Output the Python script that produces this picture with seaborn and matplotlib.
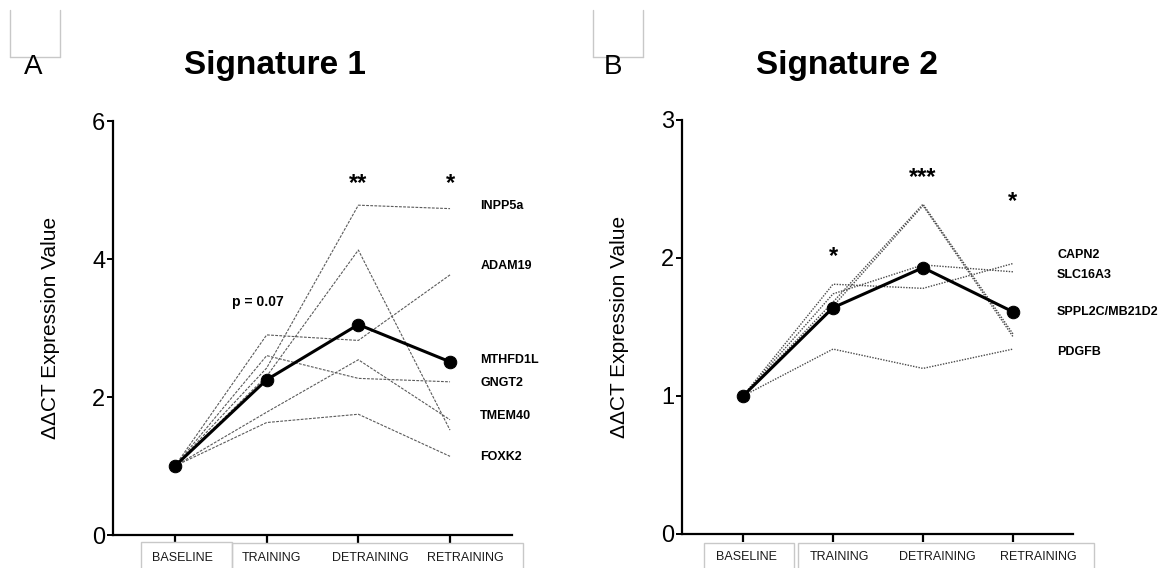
import numpy as np
import pandas as pd
import matplotlib
matplotlib.use("Agg")
import matplotlib.pyplot as plt
from matplotlib.lines import Line2D
from matplotlib.patches import Rectangle
from matplotlib.transforms import ScaledTranslation
import seaborn as sns

# ---------------- data ----------------
stages = ["BASELINE", "TRAINING", "DETRAINING", "RETRAINING"]

sig1_genes = ["INPP5a", "ADAM19", "MTHFD1L", "GNGT2", "TMEM40", "FOXK2"]
sig1_INPP5a = [1.0, 2.42, 4.78, 4.73]
sig1_ADAM19 = [1.0, 2.90, 2.82, 3.77]
sig1_MTHFD1L = [1.0, 2.30, 4.13, 1.52]
sig1_GNGT2 = [1.0, 2.60, 2.27, 2.22]
sig1_TMEM40 = [1.0, 1.78, 2.54, 1.67]
sig1_FOXK2 = [1.0, 1.63, 1.75, 1.14]
sig1_mean = [1.0, 2.25, 3.05, 2.51]

sig2_genes = ["CAPN2", "SLC16A3", "SPPL2C", "MB21D2", "PDGFB"]
sig2_CAPN2 = [1.0, 1.81, 1.78, 1.96]
sig2_SLC16A3 = [1.0, 1.74, 1.95, 1.90]
sig2_SPPL2C = [1.0, 1.68, 2.39, 1.45]
sig2_MB21D2 = [1.0, 1.65, 2.38, 1.43]
sig2_PDGFB = [1.0, 1.34, 1.20, 1.34]
sig2_mean = [1.0, 1.64, 1.93, 1.61]

sig1_label_text = ["INPP5a", "ADAM19", "MTHFD1L", "GNGT2", "TMEM40", "FOXK2"]
sig2_label_text = ["CAPN2", "SLC16A3", "SPPL2C/MB21D2", "PDGFB"]

# ---------------- layout ----------------
sig1_label_y = [4.77, 3.90, 2.54, 2.21, 1.72, 1.13]
sig2_label_y = [2.02, 1.88, 1.61, 1.32]
# horizontal offsets (px) of the stage labels from their ticks
sig1_xlabel_shift = [7, 5, 12, 15]
sig2_xlabel_shift = [3, 6, 14, 25]

sns.set_style("white")
plt.rcParams["font.family"] = ["Liberation Sans", "DejaVu Sans"]
plt.rcParams["text.color"] = "black"
plt.rcParams["axes.labelcolor"] = "black"
plt.rcParams["xtick.color"] = "black"
plt.rcParams["ytick.color"] = "black"

W, H = 1174, 568
fig = plt.figure(figsize=(W / 100, H / 100), dpi=100)


def fx(px):
    return px / W


def fy(py):
    return 1 - py / H


def long_df(genes, rows):
    recs = []
    for g, vals in zip(genes, rows):
        for i, v in enumerate(vals):
            recs.append({"gene": g, "stage": i, "value": v})
    return pd.DataFrame(recs)


df1 = long_df(sig1_genes, [sig1_INPP5a, sig1_ADAM19, sig1_MTHFD1L,
                           sig1_GNGT2, sig1_TMEM40, sig1_FOXK2])
df2 = long_df(sig2_genes, [sig2_CAPN2, sig2_SLC16A3, sig2_SPPL2C,
                           sig2_MB21D2, sig2_PDGFB])
mean1 = pd.DataFrame({"stage": range(4), "value": sig1_mean})
mean2 = pd.DataFrame({"stage": range(4), "value": sig2_mean})

axA = fig.add_axes([fx(113), fy(535), fx(512) - fx(113), fy(121) - fy(535)])
axB = fig.add_axes([fx(682), fy(534), fx(1073) - fx(682), fy(120) - fy(534)])

# gene lines
sns.lineplot(data=df1, x="stage", y="value", units="gene", estimator=None,
             color="#5a5a5a", lw=0.8, linestyle=(0, (2.5, 1.2)), ax=axA,
             legend=False)
sns.lineplot(data=df2, x="stage", y="value", units="gene", estimator=None,
             color="#4a4a4a", lw=1.0, linestyle=(0, (1, 1)), ax=axB,
             legend=False)
# mean lines
for ax, m in [(axA, mean1), (axB, mean2)]:
    sns.lineplot(data=m, x="stage", y="value", color="black", lw=2.2,
                 marker="o", markersize=9, markeredgecolor="black", ax=ax,
                 legend=False)

axA.set_xlim(-0.676, 3.676)
axA.set_ylim(0, 6)
axA.set_yticks([0, 2, 4, 6])
axB.set_xlim(-0.678, 3.667)
axB.set_ylim(0, 3)
axB.set_yticks([0, 1, 2, 3])

for ax in (axA, axB):
    sns.despine(ax=ax)
    ax.spines["left"].set_linewidth(1.6)
    ax.spines["bottom"].set_linewidth(1.6)
    ax.spines["left"].set_color("black")
    ax.spines["bottom"].set_color("black")
    ax.set_xticks(range(4))
    ax.set_xticklabels(stages)
    ax.tick_params(axis="y", direction="out", length=4, width=1.4,
                   labelsize=17, pad=1.5, left=True, color="black",
                   labelcolor="black")
    ax.tick_params(axis="x", direction="out", length=5.5, width=1.6,
                   labelsize=9, pad=7, bottom=True, color="black",
                   labelcolor="#1a1a1a")
    ax.set_xlabel("")
    ax.set_ylabel("ΔΔCT Expression Value", fontsize=15, color="black")
    ax.patch.set_alpha(0)

axA.yaxis.set_label_coords((60 - 113) / 399, 0.5)
axB.yaxis.set_label_coords((629 - 682) / 391, 0.5)

# gene labels
for t, y in zip(sig1_label_text, sig1_label_y):
    axA.text(3.33, y, t, fontsize=9, fontweight="bold", va="center",
             ha="left", color="black")
for t, y in zip(sig2_label_text, sig2_label_y):
    axB.text(3.49, y, t, fontsize=9, fontweight="bold", va="center",
             ha="left", color="black")

# significance marks
star_kw = dict(fontsize=17, fontweight="bold", ha="center", va="center",
               color="black")
axA.text(2, 5.10, "**", **star_kw)
axA.text(3, 5.10, "*", **star_kw)
axA.text(0.905, 3.38, "p = 0.07", fontsize=10, fontweight="bold",
         ha="center", va="center", color="black")
axB.text(1, 2.01, "*", **star_kw)
axB.text(2, 2.58, "***", **star_kw)
axB.text(3, 2.41, "*", **star_kw)

# titles and panel letters
fig.text(fx(275), fy(74), "Signature 1", fontsize=24, fontweight="bold",
         ha="center", va="baseline")
fig.text(fx(847), fy(74), "Signature 2", fontsize=24, fontweight="bold",
         ha="center", va="baseline")
fig.text(fx(33), fy(74), "A", fontsize=20, ha="center", va="baseline")
fig.text(fx(613), fy(74), "B", fontsize=20, ha="center", va="baseline")

# light grey corner boxes near panel letters
for x0, x1 in [(10, 60), (593, 643)]:
    for xs, ys in [((x0, x0), (10, 57)), ((x1, x1), (10, 57)),
                   ((x0, x1), (57, 57))]:
        fig.add_artist(Line2D([fx(xs[0]), fx(xs[1])], [fy(ys[0]), fy(ys[1])],
                              transform=fig.transFigure, color="#c8c8c8",
                              lw=1))

# boxes around x tick labels
for x0, x1, top in [(141, 232, 542), (232, 523, 543),
                    (704, 794, 543), (798, 1094, 543)]:
    fig.add_artist(Rectangle((fx(x0), fy(H + 20)), fx(x1) - fx(x0),
                             fy(top) - fy(H + 20), transform=fig.transFigure,
                             fill=False, edgecolor="#c8c8c8", lw=1))

# shift stage labels slightly as in the reference
fig.canvas.draw()
for ax, shifts in [(axA, sig1_xlabel_shift), (axB, sig2_xlabel_shift)]:
    for lab, dx in zip(ax.get_xticklabels(), shifts):
        lab.set_transform(lab.get_transform() +
                          ScaledTranslation(dx / 100, 0, fig.dpi_scale_trans))

fig.savefig("out.png", dpi=100)
